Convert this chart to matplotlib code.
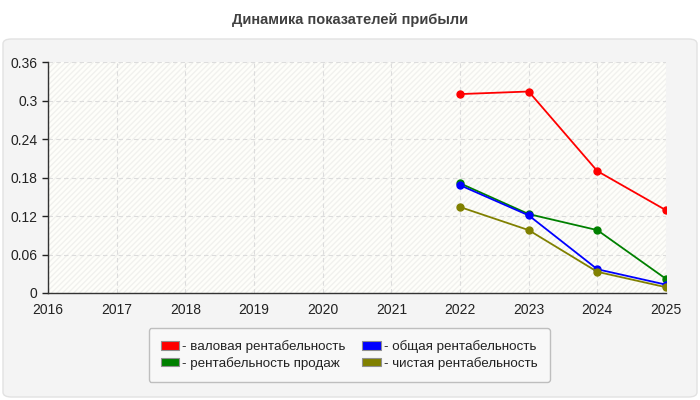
import matplotlib
matplotlib.use("Agg")
import matplotlib.pyplot as plt
from matplotlib.patches import FancyBboxPatch, Rectangle, Patch

plt.rcParams['font.family'] = ['Liberation Sans', 'DejaVu Sans']

years = [2016, 2017, 2018, 2019, 2020, 2021, 2022, 2023, 2024, 2025]
data_years = [2022, 2023, 2024, 2025]
gross = [0.310, 0.314, 0.190, 0.129]
sales = [0.171, 0.123, 0.098, 0.022]
total = [0.168, 0.121, 0.037, 0.013]
net = [0.134, 0.098, 0.033, 0.009]
names = ['- валовая рентабельность', '- рентабельность продаж',
         '- общая рентабельность', '- чистая рентабельность']
colors = ['#ff0000', '#008000', '#0000ff', '#808000']
yticks = [0, 0.06, 0.12, 0.18, 0.24, 0.3, 0.36]
ylabels = ['0', '0.06', '0.12', '0.18', '0.24', '0.3', '0.36']

fig = plt.figure(figsize=(7, 4), dpi=100)
fig.patch.set_facecolor('white')

# outer panel
panel = FancyBboxPatch((3 / 700, 3 / 400), 694 / 700, 358 / 400,
                       boxstyle="round,pad=0,rounding_size=0.012",
                       transform=fig.transFigure, facecolor='#f4f4f4',
                       edgecolor='#e2e2e2', linewidth=1, zorder=-10)
fig.patches.append(panel)

fig.text(0.5, 1 - 20 / 400, 'Динамика показателей прибыли', ha='center', va='center',
         fontsize=10.5, fontweight='bold', color='#404040')

ax = fig.add_axes([48 / 700, 1 - 293 / 400, 618 / 700, 231 / 400])
ax.set_facecolor('#fefefa')
ax.add_patch(Rectangle((0, 0), 1, 1, transform=ax.transAxes, facecolor='none',
                       edgecolor='#f1f1ee', hatch='//////', linewidth=0, zorder=0))

series = [gross, sales, total, net]
for i in range(4):
    ax.plot(data_years, series[i], color=colors[i], lw=1.3, marker='o', ms=5, zorder=3)

ax.set_xlim(2016, 2025)
ax.set_ylim(0, 0.36)
ax.set_xticks(years)
ax.set_yticks(yticks)
ax.set_yticklabels(ylabels)
ax.tick_params(labelsize=10, colors='#222222', length=4, width=1)
ax.tick_params(axis='x', length=0, pad=7)
ax.grid(True, color='#dcdcdc', linestyle=(0, (4, 3)), lw=0.8, zorder=1)
for s in ['top', 'right']:
    ax.spines[s].set_visible(False)
for s in ['left', 'bottom']:
    ax.spines[s].set_color('#333333')
    ax.spines[s].set_linewidth(1)

handles = [Patch(facecolor=colors[i], edgecolor='#909090', linewidth=0.8) for i in range(4)]
leg = fig.legend(handles, names, loc='center', bbox_to_anchor=(349 / 700, 1 - 355 / 400),
                 ncol=2, fontsize=9.6, frameon=True, handlelength=1.4, handleheight=0.6,
                 handletextpad=0.25, columnspacing=1.2, labelspacing=0.3, borderpad=0.9,
                 fancybox=True)
leg.get_frame().set_facecolor('#fafafa')
leg.get_frame().set_edgecolor('#b0b0b0')
for t in leg.get_texts():
    t.set_color('#222222')

fig.savefig('out.png', dpi=100)
